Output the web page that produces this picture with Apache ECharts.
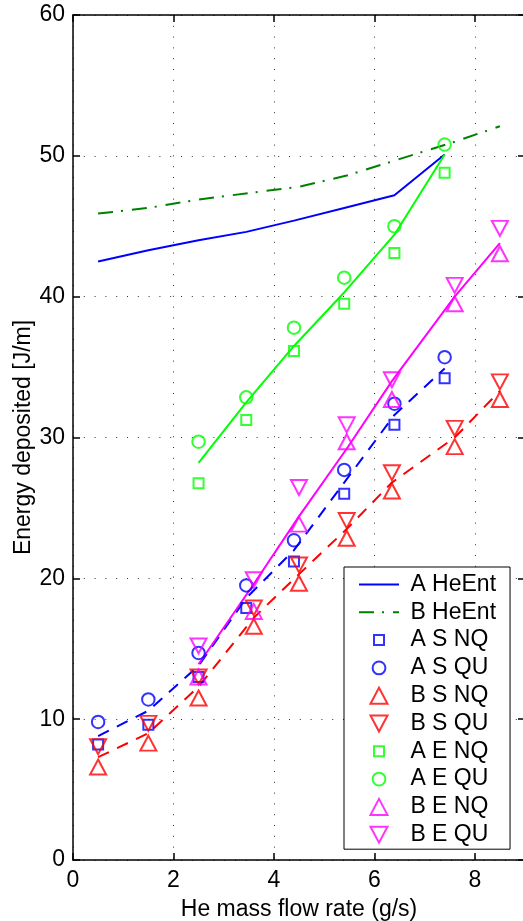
<!DOCTYPE html>
<html>
<head>
<meta charset="utf-8">
<title>Energy deposited vs He mass flow rate</title>
<script src="https://cdn.jsdelivr.net/npm/echarts@6/dist/echarts.min.js"></script>
<style>
  html, body { margin: 0; padding: 0; background: #fff; }
  #chart { width: 523px; height: 921px; }
</style>
</head>
<body>
<div id="chart"></div>
<script>
// Flow rates (g/s) for configuration A and B runs
const xA = [0.5, 1.5, 2.5, 3.45, 4.4, 5.4, 6.4, 7.4];
const xB = [0.5, 1.5, 2.5, 3.6, 4.5, 5.45, 6.35, 7.6, 8.5];
const xAE = [2.5, 3.45, 4.4, 5.4, 6.4, 7.4];
const xBE = [2.5, 3.6, 4.5, 5.45, 6.35, 7.6, 8.5];

// Helium enthalpy curves (J/m)
const aHeEnt = [42.5, 43.3, 44.0, 44.6, 45.4, 46.3, 47.2, 50.1];
const bHeEnt = [45.9, 46.3, 46.9, 47.4, 47.8, 48.6, 49.6, 51.0, 52.1];

// A, S: measured points and trend
const aSNQ = [8.2, 9.6, 13.0, 17.9, 21.2, 26.0, 30.9, 34.2];
const aSQU = [9.8, 11.4, 14.7, 19.5, 22.7, 27.7, 32.4, 35.7];
const aSFit = [8.8, 10.6, 13.8, 18.6, 22.0, 26.8, 31.6, 34.9];

// B, S
const bSNQ = [6.6, 8.3, 11.5, 16.6, 19.65, 22.85, 26.2, 29.35, 32.7];
const bSQU = [8.05, 9.7, 13.0, 17.9, 20.95, 24.1, 27.5, 30.65, 33.95];
const bSFit = [7.3, 9.0, 12.3, 17.2, 20.3, 23.5, 26.8, 30.0, 33.3];

// A, E
const aENQ = [26.75, 31.25, 36.15, 39.5, 43.1, 48.8];
const aEQU = [29.7, 32.85, 37.8, 41.35, 45.0, 50.8];
const aEFit = [28.2, 32.5, 36.5, 40.3, 44.4, 50.1];

// B, E
const bENQ = [13.0, 17.65, 23.85, 29.7, 32.7, 39.5, 43.05];
const bEQU = [15.2, 19.9, 26.45, 30.9, 34.1, 40.8, 44.85];
const bEFit = [13.9, 19.6, 24.4, 29.2, 34.0, 40.0, 43.8];

// Axis ticks
const xTicks = [0, 2, 4, 6, 8];
const yTicks = [0, 10, 20, 30, 40, 50, 60];

const legendNames = ['A HeEnt', 'B HeEnt', 'A S NQ', 'A S QU', 'B S NQ', 'B S QU',
                     'A E NQ', 'A E QU', 'B E NQ', 'B E QU'];

const FONT = '"Liberation Sans", Arial, Helvetica, sans-serif';
const BLUE = '#0000ff', DKGREEN = '#008000', GREEN = '#00ff00', RED = '#ff0000', MAGENTA = '#ff00ff';

const pairs = (xs, ys) => xs.map((x, i) => [x, ys[i]]);

const DOWN_TRI = 'path://M0,0 L2,0 L1,2 Z';
const MARK = {
  square: { symbol: 'rect', size: 10 },
  circle: { symbol: 'circle', size: 12.5 },
  up: { symbol: 'triangle', size: [16, 15] },
  down: { symbol: DOWN_TRI, size: [16, 15] }
};
// legend icons padded to an 18x18 box so their drawn sizes follow the plot markers
const ICON = {
  square: 'path://M0,0M18,18M4,4L14,4L14,14L4,14Z',
  circle: 'path://M0,0M18,18M2.6,9A6.4,6.4,0,1,1,15.4,9A6.4,6.4,0,1,1,2.6,9Z',
  up: 'path://M0,0M18,18M9,1L17.5,17L0.5,17Z',
  down: 'path://M0,0M18,18M0.5,1L17.5,1L9,17Z'
};
const CLEAR = 'rgba(0,0,0,0)';

function lineSeries(name, xs, ys, color, type) {
  return {
    name, type: 'line', data: pairs(xs, ys), symbol: 'none', showSymbol: false, z: 2,
    lineStyle: { color, width: 2, type },
    itemStyle: { color },
    silent: true, animation: false
  };
}
function markerSeries(name, xs, ys, color, kind) {
  return {
    name, type: 'scatter', data: pairs(xs, ys), z: 3,
    symbol: MARK[kind].symbol, symbolSize: MARK[kind].size,
    itemStyle: { color: CLEAR, borderColor: color, borderWidth: 2 },
    silent: true, animation: false
  };
}

const series = [
  lineSeries('A HeEnt', xA, aHeEnt, BLUE, 'solid'),
  lineSeries('B HeEnt', xB, bHeEnt, DKGREEN, [15, 8, 2, 9]),
  lineSeries('A S trend', xA, aSFit, BLUE, [12, 9]),
  lineSeries('B S trend', xB, bSFit, RED, [12, 9]),
  lineSeries('A E trend', xAE, aEFit, GREEN, 'solid'),
  lineSeries('B E trend', xBE, bEFit, MAGENTA, 'solid'),
  markerSeries('A S NQ', xA, aSNQ, BLUE, 'square'),
  markerSeries('A S QU', xA, aSQU, BLUE, 'circle'),
  markerSeries('B S NQ', xB, bSNQ, RED, 'up'),
  markerSeries('B S QU', xB, bSQU, RED, 'down'),
  markerSeries('A E NQ', xAE, aENQ, GREEN, 'square'),
  markerSeries('A E QU', xAE, aEQU, GREEN, 'circle'),
  markerSeries('B E NQ', xBE, bENQ, MAGENTA, 'up'),
  markerSeries('B E QU', xBE, bEQU, MAGENTA, 'down')
];

const iconKind = { 'A S NQ': 'square', 'A S QU': 'circle', 'B S NQ': 'up', 'B S QU': 'down',
                   'A E NQ': 'square', 'A E QU': 'circle', 'B E NQ': 'up', 'B E QU': 'down' };

// line entries keep their stroke sample but hide the marker dot
function legendItem(n) {
  if (iconKind[n]) return { name: n, icon: ICON[iconKind[n]] };
  return { name: n, itemStyle: { color: CLEAR, borderColor: CLEAR, borderWidth: 0 } };
}

const gridDots = { show: true, lineStyle: { color: '#000', width: 1, type: [1, 9.8], opacity: 0.8 } };
const labelStyle = { color: '#000', fontSize: 23, fontFamily: FONT };
const frameLine = { show: true, onZero: false, lineStyle: { color: '#000', width: 1.5 } };
const innerTicks = { show: true, inside: true, length: 7, lineStyle: { color: '#000', width: 1.5 } };

const chart = echarts.init(document.getElementById('chart'), null, { renderer: 'canvas' });
chart.setOption({
  animation: false,
  backgroundColor: '#fff',
  // the right-hand frame sits just past the canvas edge
  grid: { left: 73, top: 15, width: 452, height: 845, containLabel: false, outerBoundsMode: 'none', show: false },
  xAxis: [{
    type: 'value', min: 0, max: 9, interval: 2, position: 'bottom',
    name: 'He mass flow rate (g/s)', nameLocation: 'middle', nameGap: 38, nameMoveOverlap: false,
    nameTextStyle: labelStyle,
    axisLine: frameLine, axisTick: innerTicks,
    axisLabel: Object.assign({ margin: 9, formatter: v => (xTicks.includes(v) ? String(v) : '') }, labelStyle),
    splitLine: gridDots
  }, {
    type: 'value', min: 0, max: 9, interval: 2, position: 'top',
    axisLine: frameLine, axisTick: innerTicks,
    axisLabel: { show: false }, splitLine: { show: false }
  }],
  yAxis: [{
    type: 'value', min: 0, max: 60, interval: 10, position: 'left',
    name: 'Energy deposited [J/m]', nameLocation: 'middle', nameGap: 38, nameMoveOverlap: false,
    nameTextStyle: labelStyle,
    axisLine: frameLine, axisTick: innerTicks,
    axisLabel: Object.assign({ margin: 8, formatter: v => (yTicks.includes(v) ? String(v) : '') }, labelStyle),
    splitLine: gridDots
  }, {
    type: 'value', min: 0, max: 60, interval: 10, position: 'right',
    axisLine: frameLine, axisTick: innerTicks,
    axisLabel: { show: false }, splitLine: { show: false }
  }],
  legend: {
    show: true, orient: 'vertical', left: 344, top: 567,
    itemWidth: 40, itemHeight: 18, itemGap: 4.8,
    padding: [6, 14, 3, 14],
    backgroundColor: '#fff', borderColor: '#000', borderWidth: 1, borderRadius: 0,
    selectedMode: false,
    textStyle: { color: '#000', fontSize: 23, fontFamily: FONT },
    formatter: name => ' ' + name,
    data: legendNames.map(legendItem)
  },
  series
});
</script>
</body>
</html>
